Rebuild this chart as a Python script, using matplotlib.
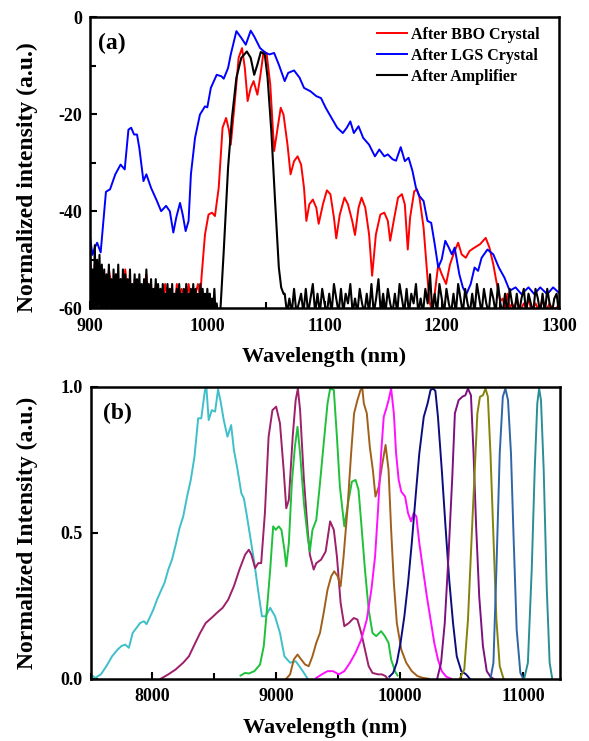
import numpy as np
import matplotlib
matplotlib.use("Agg")
from matplotlib import pyplot as plt
from matplotlib.ticker import MultipleLocator, FormatStrFormatter

plt.rcParams['font.family'] = ['Liberation Serif', 'DejaVu Serif']
plt.rcParams['font.weight'] = 'bold'
plt.rcParams['axes.unicode_minus'] = False

# ---------------- panel (a) data ----------------
# BBO: noisy floor 900-994 nm (2 nm step), main spectrum, tail floor 1252-1300
bbo_floor = [-50, -57, -51, -59, -52, -56, -53, -58, -52, -55, -57, -53,
             -59, -54, -56, -52, -58, -55, -60, -54, -57, -55, -59, -56,
             -53, -58, -56, -60, -55, -57, -56, -59, -55, -58, -56, -57,
             -60, -55, -58, -56, -57, -59, -55, -58, -56, -57, -55, -58]
bbo_nm = [995, 998, 1001, 1004, 1006.5, 1009.7, 1013, 1016, 1018.4, 1020,
          1023.5, 1026.7, 1029.6, 1032, 1034.4, 1037, 1039.5, 1042.7, 1045,
          1048, 1050.5, 1053.7, 1057, 1060, 1062.6, 1065, 1068.4, 1071, 1074,
          1077, 1080, 1082.5, 1084.5, 1087, 1090, 1093, 1095, 1098.6, 1102,
          1105, 1108, 1110, 1113, 1117, 1120, 1123.6, 1126, 1129, 1131.6,
          1134.8, 1138, 1140.6, 1143.8, 1147.6, 1151, 1154, 1156, 1159,
          1162.7, 1166, 1168.5, 1171, 1173, 1176.5, 1178.8, 1181, 1184.5,
          1187, 1189.4, 1191, 1194, 1197, 1200, 1203.7, 1207, 1211, 1214,
          1217, 1220.5, 1223.7, 1228, 1232.7, 1237.5, 1240.7, 1244, 1247, 1250]
bbo_db = [-53.7, -44.8, -40.7, -40.3, -41, -35.2, -22.8, -20.8, -23.2, -26.3,
          -17.3, -8.4, -6.4, -10.5, -17.3, -14.6, -13.2, -16, -12.5,
          -7.1, -7.4, -13.9, -27.6, -22.8, -18.7, -20.1, -26.3, -32.4, -29.7,
          -28.7, -30.4, -35.2, -42, -38.6, -37.6, -39.3, -42.6, -38.6, -35.7,
          -36.5, -41.3, -45.6, -40.7, -37.2, -38.6, -42, -44.9, -39.3, -37.2,
          -39.3, -44.8, -53.3, -44.8, -40.7, -40.3, -42, -46.1, -42,
          -37.2, -36.5, -38.6, -47.9, -41.3, -35.9, -35.5, -37.2, -43.4,
          -51, -58.5, -59.9, -57, -51, -53, -55, -51, -48.2, -46.5,
          -48.9, -49.6, -48.2, -47.5, -46.8, -45.5, -47.5, -51, -55, -58.5]
bbo_tail = [-58, -60, -57, -60, -59, -60, -58, -60, -60, -59, -60, -58, -60,
            -60, -59, -60, -60, -58, -60, -60, -59, -60, -60, -60, -59]

lgs_nm = [900, 902, 904, 906, 909, 913.5, 917, 921.5, 926, 929.5, 932.7, 935,
          937.5, 940, 942, 945.5, 948, 952, 957, 960.6, 964.8, 968, 971,
          973.5, 976.7, 979, 981.5, 984, 986, 989.5, 993.7, 998, 1000, 1003,
          1008, 1012, 1014, 1017.7, 1020, 1024.8, 1029, 1032.8, 1037, 1040,
          1045, 1049.8, 1053, 1057, 1061, 1066, 1069, 1074, 1078.7, 1082.5,
          1088, 1093, 1097, 1101, 1106, 1110.8, 1115.6, 1119, 1122, 1125,
          1129, 1133, 1138, 1143, 1146.7, 1151, 1154, 1158, 1161, 1165,
          1168.5, 1171.7, 1175, 1178, 1181, 1184.5, 1187.8, 1191, 1194, 1197,
          1200, 1203, 1206, 1208.6, 1211, 1215, 1218, 1221, 1224.7, 1228,
          1231, 1234, 1239, 1244, 1248.7, 1253.5, 1258, 1263, 1268, 1274,
          1279, 1284, 1290, 1295, 1300]
lgs_db = [-45.5, -49, -47.5, -46.5, -48.5, -36, -35.5, -32.4, -30.4, -31.4,
          -23.2, -22.8, -24.2, -24.2, -27, -33.8, -32.4, -35.2, -37.9, -40,
          -38.9, -40, -44.4, -41.3, -38.3, -40.7, -44.1, -42, -32.4, -24.9,
          -20.1, -18.4, -18.6, -14.6, -11.9, -12.2, -12.7, -10.5, -7.7, -2.9,
          -4.3, -5.7, -2.8, -4, -6.4, -7.4, -7.7, -7.4, -9.8, -13.2, -11.5,
          -11, -12.5, -14.6, -15.3, -16.3, -16.7, -18.7, -20.8, -22.8, -23.9,
          -22.8, -21.5, -23.9, -22.5, -24.9, -26.3, -28.7, -27.3, -28.7,
          -28.3, -29.3, -29.6, -26.8, -29.7, -29, -31.7, -35.2, -36.9, -37.9,
          -42, -42.4, -46.8, -51.6, -49.9, -46.1, -47.5, -48.9, -47.5, -53,
          -55.7, -57.1, -55, -51.6, -52.3, -49.6, -47.9, -48.9, -51.6, -53.7,
          -56.4, -55.7, -57.1, -55.7, -57.1, -55.7, -57.1, -55.7, -56.8]

# amplifier: floor 900-1010 nm (1 nm), pulse, floor 1066-1300 nm (2 nm)
amp_floor1 = [-48, -61, -52, -60, -47, -61, -50, -60, -49, -61,
              -51, -61, -52, -60, -53, -61, -51, -60, -54, -61,
              -52, -61, -53, -60, -51, -61, -54, -60, -52, -61,
              -53, -61, -54, -60, -52, -61, -55, -60, -53, -61,
              -54, -61, -53, -60, -55, -61, -54, -60, -52, -61,
              -55, -61, -54, -60, -56, -61, -54, -60, -55, -61,
              -56, -61, -55, -60, -57, -61, -55, -60, -56, -61,
              -55, -61, -57, -60, -56, -61, -55, -60, -57, -61,
              -56, -61, -55, -60, -57, -61, -56, -60, -55, -61,
              -56, -61, -57, -60, -55, -61, -56, -60, -57, -61,
              -56, -61, -57, -60, -58, -61, -56, -61, -59, -61, -61]
amp_nm = [1011, 1014, 1017.7, 1021, 1024.8, 1029, 1033.7, 1037, 1040,
          1042.7, 1045.6, 1049, 1051.4, 1054.6, 1057.8, 1061, 1063, 1065]
amp_db = [-61, -48.2, -31, -20.8, -12.5, -8.4, -7.1, -8.4, -11.9,
          -9.8, -7.2, -7.7, -12.5, -23.5, -37.9, -51.6, -55.7, -57]
amp_floor2 = [-57, -61, -58, -61, -56, -61, -59, -57, -61, -56, -61, -58,
              -55, -61, -57, -61, -56, -59,
              -61, -57, -61, -55, -58, -61, -56, -61, -57, -59,
              -55, -61, -58, -61, -56, -59, -61, -57, -61, -55,
              -61, -58, -54, -61, -57, -61, -56, -59, -61, -57,
              -61, -55, -58, -61, -56, -61, -57, -59, -55, -61,
              -58, -61, -56, -59, -53, -61, -57, -61, -55, -58,
              -61, -56, -59, -61, -57, -61, -55, -58, -61, -56,
              -59, -61, -57, -61, -55, -58, -61, -56, -59, -61,
              -56, -58, -61, -55, -59, -61, -57, -61, -56, -59,
              -61, -57, -61, -58, -56, -61, -57, -59, -61, -56,
              -58, -61, -57, -61, -56, -59, -61, -58, -57, -61]

# ---------------- panel (b) data ----------------
tuning_colors = ['#3fbfc9', '#9e1f6a', '#1fc13a', '#a0601c', '#ff10ff',
                 '#0c0c80', '#7e1080', '#85820c', '#2f66a6', '#2a8f95']
cyan_nm = [7500, 7536, 7582, 7627, 7673, 7718, 7749, 7779, 7809, 7840, 7870,
           7900, 7931, 7952, 7976, 8007, 8037, 8067, 8097, 8128, 8158, 8188,
           8219, 8249, 8280, 8310, 8340, 8370, 8395, 8425, 8437, 8455, 8480,
           8507, 8531, 8552, 8577, 8607, 8637, 8659, 8689, 8719, 8740, 8765,
           8795, 8825, 8856, 8886, 8916, 8953, 8992, 9032, 9068, 9114, 9159,
           9189, 9226, 9256]
cyan_val = [0.015, 0.003, 0.015, 0.043, 0.077, 0.1, 0.112, 0.117, 0.106,
            0.157, 0.174, 0.191, 0.197, 0.187, 0.208, 0.237, 0.271, 0.3,
            0.328, 0.374, 0.408, 0.459, 0.516, 0.556, 0.624, 0.681, 0.761,
            0.892, 0.892, 0.989, 0.995, 0.886, 0.92, 0.915, 0.991, 0.949,
            0.886, 0.829, 0.869, 0.784, 0.715, 0.636, 0.618, 0.556, 0.476,
            0.396, 0.3, 0.214, 0.214, 0.243, 0.214, 0.157, 0.077, 0.055,
            0.06, 0.043, 0.02, 0.0]
plum_nm = [8067, 8128, 8188, 8249, 8295, 8340, 8386, 8431, 8477, 8522, 8568,
           8613, 8659, 8704, 8750, 8780, 8801, 8831, 8856, 8880, 8910, 8940,
           8971, 9001, 9032, 9062, 9083, 9104, 9135, 9159, 9177, 9195, 9226,
           9256, 9274, 9305, 9326, 9365, 9402, 9438, 9468, 9493, 9523, 9553,
           9590, 9629, 9659, 9690, 9720, 9750, 9781, 9826, 9857, 9887, 9902]
plum_val = [0, 0.015, 0.032, 0.055, 0.077, 0.117, 0.157, 0.191, 0.208, 0.226,
            0.243, 0.271, 0.317, 0.374, 0.425, 0.442, 0.425, 0.379, 0.396,
            0.396, 0.567, 0.829, 0.92, 0.932, 0.875, 0.715, 0.584, 0.613,
            0.829, 0.954, 0.994, 0.92, 0.681, 0.51, 0.425, 0.374, 0.396,
            0.408, 0.436, 0.539, 0.51, 0.419, 0.26, 0.18, 0.191, 0.208, 0.203,
            0.157, 0.1, 0.043, 0.02, 0.015, 0.015, 0.009, 0.0]
green_nm = [8713, 8750, 8780, 8825, 8871, 8901, 8931, 8953, 8977, 8998, 9022,
            9044, 9068, 9083, 9104, 9128, 9153, 9174, 9195, 9226, 9256, 9274,
            9295, 9326, 9356, 9386, 9417, 9438, 9468, 9493, 9517, 9553, 9583,
            9614, 9644, 9668, 9690, 9720, 9750, 9781, 9811, 9851, 9881, 9911,
            9932, 9963, 9984]
green_val = [0.011, 0.02, 0.018, 0.026, 0.049, 0.112, 0.26, 0.374, 0.522,
             0.51, 0.522, 0.51, 0.442, 0.385, 0.465, 0.67, 0.795, 0.863, 0.772,
             0.601, 0.487, 0.436, 0.51, 0.544, 0.67, 0.806, 0.943, 0.994,
             0.989, 0.829, 0.658, 0.522, 0.601, 0.675, 0.681, 0.647, 0.533,
             0.374, 0.237, 0.157, 0.146, 0.163, 0.146, 0.123, 0.066, 0.026,
             0.011]
brown_nm = [9083, 9114, 9144, 9174, 9204, 9235, 9265, 9295, 9326, 9356, 9386,
            9417, 9447, 9471, 9499, 9523, 9547, 9578, 9608, 9632, 9659, 9684,
            9699, 9711, 9735, 9759, 9784, 9805, 9832, 9857, 9887, 9911, 9932,
            9954, 9978, 10014, 10054, 10099, 10145, 10190, 10236]
brown_val = [0, 0.015, 0.066, 0.083, 0.066, 0.049, 0.043, 0.077, 0.123,
             0.157, 0.226, 0.305, 0.351, 0.368, 0.351, 0.317, 0.419, 0.579,
             0.772, 0.909, 0.954, 0.989, 0.994, 0.943, 0.909, 0.795, 0.715,
             0.624, 0.658, 0.727, 0.801, 0.715, 0.51, 0.328, 0.191, 0.1, 0.055,
             0.026, 0.009, 0.003, 0]
magenta_nm = [9326, 9371, 9417, 9462, 9508, 9553, 9599, 9644, 9690, 9735,
              9772, 9802, 9826, 9851, 9872, 9893, 9911, 9932, 9954, 9972,
              9993, 10014, 10045, 10069, 10093, 10114, 10136, 10160, 10190,
              10221, 10251, 10281, 10311, 10342, 10378, 10418]
magenta_val = [0.003, 0.015, 0.026, 0.026, 0.015, 0.026, 0.055, 0.089, 0.134,
               0.203, 0.305, 0.419, 0.579, 0.772, 0.897, 0.926, 0.954, 0.994,
               0.909, 0.772, 0.681, 0.641, 0.624, 0.567, 0.539, 0.567, 0.556,
               0.465, 0.374, 0.282, 0.203, 0.123, 0.066, 0.026, 0.007, 0]
navy_nm = [9917, 9948, 9978, 10008, 10039, 10069, 10099, 10130, 10160, 10196,
           10227, 10251, 10272, 10290, 10311, 10342, 10372, 10402, 10433,
           10463, 10500, 10539, 10569]
navy_val = [0.007, 0.02, 0.055, 0.123, 0.214, 0.328, 0.465, 0.624, 0.772,
            0.897, 0.943, 0.989, 0.994, 0.986, 0.897, 0.715, 0.522, 0.339,
            0.191, 0.077, 0.026, 0.015, 0]
purple_nm = [10305, 10336, 10366, 10396, 10427, 10448, 10478, 10508, 10533,
             10554, 10578, 10599, 10620, 10645, 10675, 10706, 10736, 10760]
purple_val = [0, 0.055, 0.191, 0.419, 0.692, 0.909, 0.954, 0.966, 0.971,
              0.994, 0.971, 0.772, 0.522, 0.282, 0.112, 0.026, 0.007, 0]
olive_nm = [10487, 10524, 10554, 10590, 10630, 10651, 10675, 10696, 10715,
            10736, 10760, 10784, 10811, 10842]
olive_val = [0, 0.032, 0.203, 0.544, 0.909, 0.966, 0.971, 0.994, 0.966,
             0.772, 0.487, 0.203, 0.043, 0]
steel_nm = [10736, 10760, 10784, 10811, 10836, 10857, 10878, 10902, 10923,
            10948, 10978, 11002]
steel_val = [0, 0.055, 0.374, 0.772, 0.966, 0.994, 0.954, 0.772, 0.487,
             0.169, 0.02, 0]
teal_nm = [11009, 11039, 11070, 11094, 11115, 11130, 11145, 11167, 11191,
           11215, 11236]
teal_val = [0, 0.055, 0.374, 0.715, 0.943, 0.994, 0.954, 0.715, 0.317,
            0.055, 0]


def style_axes(ax):
    for s in ax.spines.values():
        s.set_linewidth(1.8)
    ax.tick_params(which='both', direction='in', width=1.5, labelsize=13,
                   top=False, right=False)
    ax.tick_params(axis='x', which='both', pad=7)
    ax.tick_params(axis='y', which='both', pad=6)
    ax.tick_params(which='major', length=5)
    ax.tick_params(which='minor', length=4)
    for lab in ax.get_xticklabels() + ax.get_yticklabels():
        lab.set_fontweight('bold')


fig = plt.figure(figsize=(5.89, 7.41), dpi=100)
ax1 = fig.add_axes([0.153, 0.584, 0.796, 0.393])
ax2 = fig.add_axes([0.154, 0.084, 0.797, 0.394])

# panel (a)
bbo_x = np.concatenate([np.arange(900, 996, 2), bbo_nm, np.arange(1252, 1301, 2)])
bbo_y = np.concatenate([bbo_floor, bbo_db, bbo_tail])
amp_x = np.concatenate([np.arange(900, 1011), amp_nm, np.arange(1066, 1301, 2)])
amp_y = np.concatenate([amp_floor1, amp_db, amp_floor2])

ax1.plot(bbo_x, bbo_y, color='#ff0000', lw=1.4, label='After BBO Crystal')
ax1.plot(lgs_nm, lgs_db, color='#0000ff', lw=1.4, label='After LGS Crystal')
ax1.plot(amp_x, amp_y, color='black', lw=1.5, label='After Amplifier')
ax1.set_xlim(900, 1300)
ax1.set_ylim(-60, 0)
ax1.xaxis.set_major_locator(MultipleLocator(100))
ax1.xaxis.set_minor_locator(MultipleLocator(50))
ax1.yaxis.set_major_locator(MultipleLocator(20))
ax1.yaxis.set_minor_locator(MultipleLocator(10))
ax1.set_xlabel('Wavelength (nm)', fontsize=16, fontweight='bold', labelpad=9)
ax1.set_ylabel('Normalized intensity (a.u.)', fontsize=17, fontweight='bold')
ax1.yaxis.set_label_coords(-0.112, 0.45)
ax1.text(0.047, 0.91, '(a)', transform=ax1.transAxes, fontsize=17,
         fontweight='bold', ha='center', va='center')
ax1.legend(loc='upper left', bbox_to_anchor=(0.612, 0.966), frameon=False,
           prop={'weight': 'bold', 'size': 11.5}, handlelength=1.85,
           handletextpad=0.3, labelspacing=0.3, borderpad=0, borderaxespad=0)
style_axes(ax1)

# panel (b)
series_b = [(cyan_nm, cyan_val), (plum_nm, plum_val), (green_nm, green_val),
            (brown_nm, brown_val), (magenta_nm, magenta_val),
            (navy_nm, navy_val), (purple_nm, purple_val),
            (olive_nm, olive_val), (steel_nm, steel_val), (teal_nm, teal_val)]
for (xs, ys), c in zip(series_b, tuning_colors):
    ax2.plot(xs, ys, color=c, lw=1.4)
ax2.set_xlim(7500, 11300)
ax2.set_ylim(0, 1)
ax2.xaxis.set_major_locator(MultipleLocator(1000))
ax2.xaxis.set_minor_locator(MultipleLocator(500))
ax2.yaxis.set_major_locator(MultipleLocator(0.5))
ax2.yaxis.set_major_formatter(FormatStrFormatter('%.1f'))
ax2.set_xlabel('Wavelength (nm)', fontsize=16, fontweight='bold', labelpad=9)
ax2.set_ylabel('Normalized Intensity (a.u.)', fontsize=17, fontweight='bold')
ax2.yaxis.set_label_coords(-0.112, 0.5)
ax2.text(0.058, 0.91, '(b)', transform=ax2.transAxes, fontsize=17,
         fontweight='bold', ha='center', va='center')
style_axes(ax2)

fig.savefig('out.png', dpi=100)
